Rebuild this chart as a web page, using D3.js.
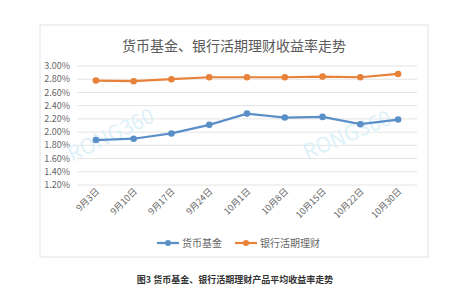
<!DOCTYPE html>
<html>
<head>
<meta charset="utf-8">
<script src="https://cdn.jsdelivr.net/npm/d3@7"></script>
<style>
  body { margin: 0; background: #fff; }
  text { font-family: "Noto Sans CJK SC", "Noto Sans", sans-serif; }
</style>
</head>
<body>
<div id="chart"></div>
<script>
const categories = ["9月3日", "9月10日", "9月17日", "9月24日", "10月1日", "10月8日", "10月15日", "10月22日", "10月30日"];
const fundValues = [1.88, 1.90, 1.98, 2.11, 2.28, 2.22, 2.23, 2.12, 2.19];
const bankValues = [2.78, 2.77, 2.80, 2.83, 2.83, 2.83, 2.84, 2.83, 2.88];
const yTicks = [1.2, 1.4, 1.6, 1.8, 2.0, 2.2, 2.4, 2.6, 2.8, 3.0];
const seriesNames = ["货币基金", "银行活期理财"];
const colors = ["#5b8fc7", "#e8823a"];

const W = 450, H = 300;
const svg = d3.select("#chart").append("svg").attr("width", W).attr("height", H);

// chart frame
svg.append("rect")
  .attr("x", 40).attr("y", 25).attr("width", 388).attr("height", 232)
  .attr("fill", "#fff").attr("stroke", "#e2e2e2");

svg.append("text")
  .attr("x", 234).attr("y", 51)
  .attr("text-anchor", "middle")
  .style("font-size", "14px").style("fill", "#5a5a5a")
  .text("货币基金、银行活期理财收益率走势");

const x = d3.scaleBand().domain(categories).range([77, 417]);
const y = d3.scaleLinear().domain([1.2, 3.0]).range([185, 66]);

// grid
svg.append("g").selectAll("line").data(yTicks).enter().append("line")
  .attr("x1", 77).attr("x2", 417)
  .attr("y1", d => y(d)).attr("y2", d => y(d))
  .attr("stroke", "#e4e4e4").attr("stroke-width", 1);

// y axis labels
svg.append("g").selectAll("text").data(yTicks).enter().append("text")
  .attr("x", 70).attr("y", d => y(d)).attr("dy", "0.35em")
  .attr("text-anchor", "end")
  .style("font-size", "9px").style("fill", "#666")
  .text(d => d3.format(".2f")(d) + "%");

// x axis labels
svg.append("g").selectAll("text").data(categories).enter().append("text")
  .attr("transform", d => `translate(${x(d) + x.bandwidth() / 2 + 4},${192}) rotate(-45)`)
  .attr("text-anchor", "end")
  .style("font-size", "9px").style("fill", "#666")
  .text(d => d);

// watermark
svg.append("text")
  .attr("transform", "translate(72,162) rotate(-26)")
  .style("font-size", "21px").style("fill", "#d8eef8").style("opacity", 0.8)
  .text("RONG360");
svg.append("text")
  .attr("transform", "translate(307,160) rotate(-23)")
  .style("font-size", "21px").style("fill", "#d8eef8").style("opacity", 0.8)
  .text("RONG360");

const line = d3.line()
  .x((d, i) => x(categories[i]) + x.bandwidth() / 2)
  .y(d => y(d));

[fundValues, bankValues].forEach((vals, k) => {
  svg.append("path").datum(vals)
    .attr("d", line)
    .attr("fill", "none").attr("stroke", colors[k]).attr("stroke-width", 2.2);
  svg.append("g").selectAll("circle").data(vals).enter().append("circle")
    .attr("cx", (d, i) => x(categories[i]) + x.bandwidth() / 2)
    .attr("cy", d => y(d))
    .attr("r", 3.3)
    .attr("fill", colors[k]);
});

// legend
const legendX = [157, 235];
seriesNames.forEach((name, k) => {
  const g = svg.append("g").attr("transform", `translate(${legendX[k]},243)`);
  g.append("line").attr("x1", 0).attr("x2", 22)
    .attr("stroke", colors[k]).attr("stroke-width", 2.2);
  g.append("circle").attr("cx", 11).attr("cy", 0).attr("r", 3).attr("fill", colors[k]);
  g.append("text").attr("x", 25).attr("dy", "0.35em")
    .style("font-size", "10px").style("fill", "#666")
    .text(name);
});

// caption
svg.append("text")
  .attr("x", 235).attr("y", 283)
  .attr("text-anchor", "middle")
  .style("font-size", "9px").style("font-weight", "bold").style("fill", "#333")
  .text("图3  货币基金、银行活期理财产品平均收益率走势");
</script>
</body>
</html>
